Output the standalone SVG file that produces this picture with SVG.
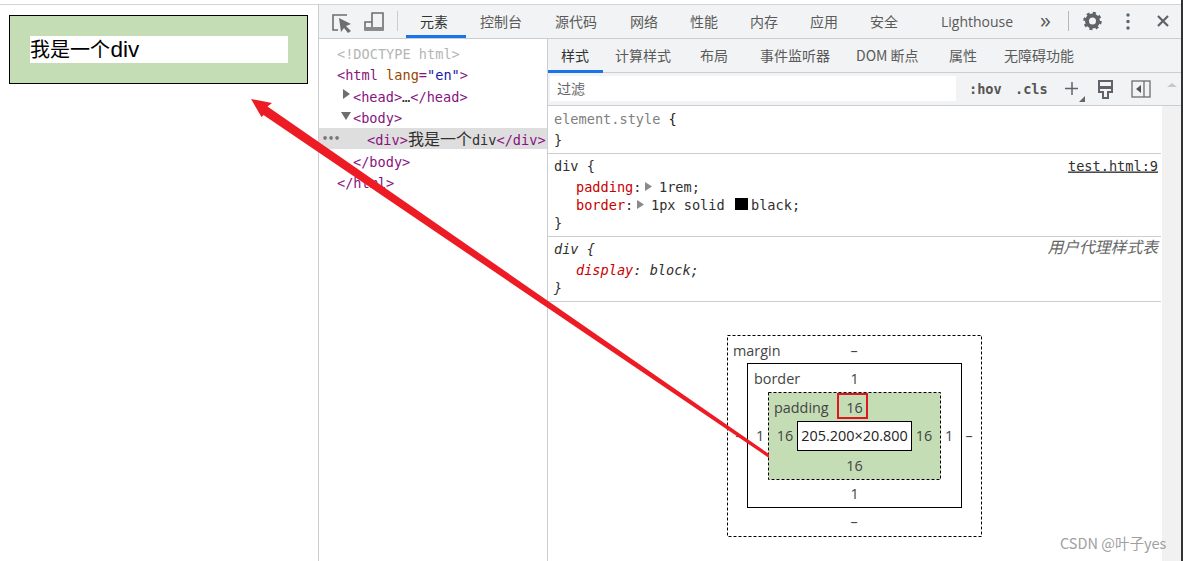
<svg xmlns="http://www.w3.org/2000/svg" width="1183" height="561" viewBox="0 0 1183 561">
<style>
text{white-space:pre}
.ui{font-family:"Noto Sans CJK SC","Noto Sans",sans-serif;font-size:14px;fill:#5a5a5a}
.lat{font-family:"Open Sans","Noto Sans",sans-serif;font-size:14px;fill:#5a5a5a}
.m{font-family:"DejaVu Sans Mono","Noto Sans CJK SC",monospace;font-size:13.6px;fill:#303030}
.tag{fill:#881280}
.prop{fill:#c80000}
.box{font-family:"Open Sans","Noto Sans",sans-serif;font-size:14.400px;fill:#444;text-anchor:middle}
.boxl{font-family:"Open Sans","Noto Sans",sans-serif;font-size:14.400px;fill:#444}
.ln{stroke:#cbcdd1;stroke-width:1;fill:none}
.ic{fill:none;stroke:#6e6e6e;stroke-width:1.6}
.tri{fill:#6e6e6e}
</style>
<rect width="1183" height="561" fill="#fff"/>
<rect x="0" y="4" width="1181" height="1" fill="#d4d4d4"/>
<rect x="1181" y="0" width="2" height="561" fill="#333"/>

<g id="page-div">
<rect x="9.500" y="15.500" width="298" height="68" fill="#c5ddb5" stroke="#000"/>
<rect x="30" y="36" width="258" height="27" fill="#fff"/>
<text x="30" y="57" font-family="Liberation Sans,Noto Sans CJK SC,sans-serif" font-size="20" fill="#000">我是一个<tspan font-size="22.500" dx="0.500">div</tspan></text>
</g>

<g id="toolbar">
<rect x="319" y="5" width="862" height="33" fill="#f1f3f4"/>
<rect x="318" y="5" width="1" height="556" fill="#cbcdd1"/>
<rect x="319" y="38" width="862" height="1" fill="#cbcdd1"/>
<path class="ic" d="M347 15H333V30H338"/>
<path d="M339 18L351 24L346 26L351 31L348 33L344 28L341 32Z" fill="#6e6e6e"/>
<path class="ic" d="M372 22V13H383V30H365V22H372V30"/>
<rect x="365" y="27" width="18" height="3" fill="#8a8a8a"/>
<rect x="397" y="11" width="1" height="20" fill="#cbcdd1"/>
<rect x="406" y="35" width="60" height="3" fill="#1a73e8"/>
<text class="ui" x="420" y="27" style="fill:#333">元素</text>
<text class="ui" x="480" y="27">控制台</text>
<text class="ui" x="555" y="27">源代码</text>
<text class="ui" x="630" y="27">网络</text>
<text class="ui" x="690" y="27">性能</text>
<text class="ui" x="750" y="27">内存</text>
<text class="ui" x="810" y="27">应用</text>
<text class="ui" x="870" y="27">安全</text>
<text class="lat" x="941" y="27">Lighthouse</text>
<text class="lat" x="1040" y="28" style="font-size:22px">»</text>
<rect x="1068" y="11" width="1" height="20" fill="#b8b8b8"/>
<circle cx="1092.500" cy="21" r="5.500" fill="none" stroke="#5f6368" stroke-width="4"/>
<circle cx="1092.500" cy="21" r="8" fill="none" stroke="#5f6368" stroke-width="2.500" stroke-dasharray="3 3.300"/>
<circle cx="1128" cy="15" r="1.700" fill="#5f6368"/><circle cx="1128" cy="21.500" r="1.700" fill="#5f6368"/><circle cx="1128" cy="28" r="1.700" fill="#5f6368"/>
<path d="M1158 16L1168 26M1168 16L1158 26" stroke="#5f6368" stroke-width="2.200"/>
</g>

<g id="dom-tree">
<rect x="319" y="128" width="228" height="21" fill="#dedede"/>
<text class="m" x="337" y="58.500" style="fill:#b5b5b5">&lt;!DOCTYPE html&gt;</text>
<text class="m" x="337" y="79.500"><tspan class="tag">&lt;html </tspan><tspan fill="#994500">lang</tspan><tspan class="tag">=</tspan><tspan fill="#1a1aa6">"en"</tspan><tspan class="tag">&gt;</tspan></text>
<path class="tri" d="M343 89L350 94L343 99Z"/>
<text class="m" x="353" y="101.500"><tspan class="tag">&lt;head&gt;</tspan>…<tspan class="tag">&lt;/head&gt;</tspan></text>
<path class="tri" d="M341 112H351L346 120Z"/>
<text class="m tag" x="353" y="122.500">&lt;body&gt;</text>
<text class="m" x="322" y="142" style="font-size:10px;font-weight:bold;fill:#777">•••</text>
<text class="m" x="367" y="144.500"><tspan class="tag">&lt;div&gt;</tspan><tspan font-size="16">我是一个</tspan>div<tspan class="tag">&lt;/div&gt;</tspan></text>
<text class="m tag" x="353" y="166.500">&lt;/body&gt;</text>
<text class="m tag" x="337" y="187.500">&lt;/html&gt;</text>
</g>

<g id="styles-tabs">
<rect x="547" y="39" width="1" height="522" fill="#cbcdd1"/>
<rect x="548" y="39" width="633" height="33" fill="#f1f3f4"/>
<rect x="548" y="72" width="633" height="1" fill="#cbcdd1"/>
<rect x="548" y="70" width="55" height="3" fill="#1a73e8"/>
<text class="ui" x="561" y="61" style="fill:#333">样式</text>
<text class="ui" x="615" y="61">计算样式</text>
<text class="ui" x="700" y="61">布局</text>
<text class="ui" x="760" y="61">事件监听器</text>
<text class="ui" x="856" y="61">DOM 断点</text>
<text class="ui" x="949" y="61">属性</text>
<text class="ui" x="1004" y="61">无障碍功能</text>
<rect x="548" y="73" width="633" height="32" fill="#f1f3f4"/>
<rect x="550" y="76" width="406" height="25" fill="#fff"/>
<rect x="548" y="105" width="633" height="1" fill="#cbcdd1"/>
<text class="ui" x="557" y="94" style="fill:#666">过滤</text>
<text class="m" x="969" y="94" style="font-weight:bold;fill:#555">:hov</text>
<text class="m" x="1015" y="94" style="font-weight:bold;fill:#555">.cls</text>
<path d="M1072 82V95M1065 88.500H1078" stroke="#5f6368" stroke-width="1.500"/>
<path d="M1085 102H1079L1085 96Z" fill="#666"/>
<path d="M1099 81H1112V92H1108V98H1103V92H1099Z" fill="none" stroke="#5f6368" stroke-width="2"/>
<rect x="1099" y="86" width="13" height="3" fill="#5f6368"/>
<rect x="1132" y="81" width="18" height="16" fill="none" stroke="#6e6e6e" stroke-width="1.300"/>
<path d="M1144 81V97" stroke="#6e6e6e" stroke-width="1.300"/><path d="M1141 85V93L1136 89Z" fill="#555"/>
<rect x="1162" y="106" width="19" height="455" fill="#f1f1f1"/>
<path d="M1167 87L1172 83L1177 87Z" fill="#c8c8c8"/>
</g>

<g id="style-rules">
<path class="ln" d="M548 153.500H1161M548 236.500H1161M548 301.500H1161"/>
<text class="m" x="554" y="123.500"><tspan fill="#808080">element.style </tspan><tspan fill="#222">{</tspan></text>
<text class="m" x="554" y="144.500">}</text>
<text class="m" x="554" y="170.500">div {</text>
<text class="m" x="1068" y="170.500" text-decoration="underline">test.html:9</text>
<text class="m" x="576" y="191.500"><tspan class="prop">padding</tspan>:</text>
<path d="M645 182L652 186.500L645 191Z" fill="#8a8a8a"/>
<text class="m" x="659" y="191.500">1rem;</text>
<text class="m" x="576" y="209.500"><tspan class="prop">border</tspan>:</text>
<path d="M637 200L644 204.500L637 209Z" fill="#8a8a8a"/>
<text class="m" x="651" y="209.500">1px solid</text>
<rect x="735" y="198" width="13" height="12" fill="#000"/>
<text class="m" x="751" y="209.500">black;</text>
<text class="m" x="554" y="227.500">}</text>
<text class="m" x="554" y="253.500" font-style="italic">div {</text>
<text class="m" x="1158" y="253" text-anchor="end" font-style="italic" style="fill:#666;font-size:15.800px">用户代理样式表</text>
<text class="m" x="576" y="274.500" font-style="italic"><tspan class="prop">display</tspan>: block;</text>
<text class="m" x="554" y="292.500" font-style="italic">}</text>
</g>

<g id="box-margin">
<rect x="727.500" y="335.500" width="254" height="201" fill="#fff" stroke="#000" stroke-dasharray="3 2"/>
<text class="boxl" x="733" y="356">margin</text>
<text class="box" x="854" y="356">–</text>
<text class="box" x="739" y="441">–</text>
<text class="box" x="969" y="441">–</text>
<text class="box" x="854" y="527">–</text>
</g>
<g id="box-border">
<rect x="747.500" y="363.500" width="214" height="144" fill="#fff" stroke="#000"/>
<text class="boxl" x="754" y="384">border</text>
<text class="box" x="854.500" y="384">1</text>
<text class="box" x="760" y="441">1</text>
<text class="box" x="949" y="441">1</text>
<text class="box" x="854.500" y="499">1</text>
</g>
<g id="box-padding">
<rect x="768.500" y="392.500" width="172" height="87" fill="#c5ddb5" stroke="#000" stroke-dasharray="3 2"/>
<text class="boxl" x="774" y="413">padding</text>
<text class="box" x="854.500" y="413">16</text>
<rect x="838" y="394" width="29" height="24" fill="none" stroke="#e1151f" stroke-width="2"/>
<text class="box" x="785" y="441">16</text>
<text class="box" x="924" y="441">16</text>
<text class="box" x="854.500" y="471">16</text>
</g>
<g id="box-content">
<rect x="797.500" y="421.500" width="114" height="29" fill="#fff" stroke="#000"/>
<text class="box" x="854.500" y="441" style="fill:#222">205.200×20.800</text>
</g>

<text x="1060" y="549" font-family="Noto Sans CJK SC,Noto Sans,sans-serif" font-size="14.500" fill="#a0a0a0">CSDN @叶子yes</text>

<g id="connectors">
<path d="M251 99L272 103L267.500 106.500L769 454L769 458L263.500 115L261.500 117Z" fill="#ed1c24"/>
</g>
</svg>
